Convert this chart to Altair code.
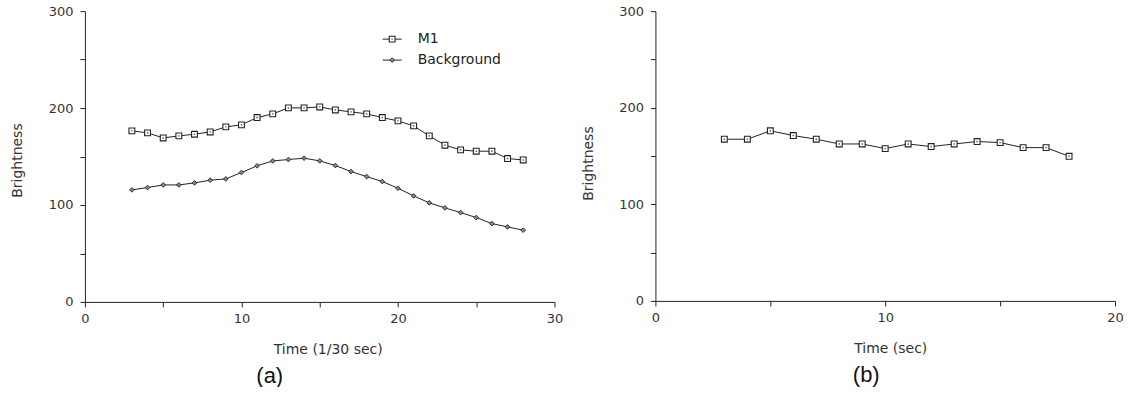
import altair as alt
import pandas as pd

# ---- data ----
time_a = list(range(3, 29))
m1_a = [176.5, 174.4, 169.2, 171.3, 173.0, 175.4, 180.6, 182.7, 190.2, 194.0,
        200.2, 200.2, 201.2, 198.1, 196.1, 194.0, 190.2, 186.8, 181.6, 171.3,
        161.7, 156.9, 155.5, 155.5, 147.9, 146.5]
background_a = [115.6, 118.0, 120.7, 120.7, 122.8, 125.6, 126.9, 133.5, 140.4, 145.5,
                146.9, 148.3, 145.5, 140.7, 134.5, 129.3, 124.2, 117.3, 109.4, 102.2,
                97.0, 92.2, 87.0, 80.8, 77.4, 74.0]
time_b = list(range(3, 19))
m1_b = [167.4, 167.4, 176.1, 171.2, 167.4, 162.5, 162.5, 157.7, 162.5, 159.8,
        162.5, 165.0, 163.9, 158.7, 158.7, 149.7]

x_ticks_a = [0, 5, 10, 15, 20, 25, 30]
x_ticks_b = [0, 5, 10, 15, 20]
y_ticks = [0, 50, 100, 150, 200, 250, 300]

df_m1a = pd.DataFrame({"t": time_a, "v": m1_a})
df_bga = pd.DataFrame({"t": time_a, "v": background_a})
df_m1b = pd.DataFrame({"t": time_b, "v": m1_b})

LINE = "#222222"
FONT = "DejaVu Sans"

W_A, H_A = 470, 291
W_B, H_B = 460, 290


def y_axis(title_y):
    return alt.Axis(values=y_ticks, labelExpr="datum.value % 100 == 0 ? datum.label : ''",
                    title="Brightness", titleAngle=270, titleX=-67, titleY=title_y,
                    titleBaseline="middle", titleAlign="center", tickSize=5,
                    labelPadding=7, grid=False)


def x_axis(vals, title, tx):
    return alt.Axis(values=vals, labelExpr="datum.value % 10 == 0 ? datum.label : ''",
                    title=title, titleX=tx, titleY=48, titleBaseline="middle",
                    titleAlign="center", tickSize=5, labelPadding=6, grid=False,
                    labelFlush=False)


def series(df, xdom, xvals, xtitle, tx, ty, shape):
    base = alt.Chart(df).encode(
        x=alt.X("t:Q", scale=alt.Scale(domain=xdom, nice=False), axis=x_axis(xvals, xtitle, tx)),
        y=alt.Y("v:Q", scale=alt.Scale(domain=[0, 300], nice=False), axis=y_axis(ty)),
    )
    line = base.mark_line(color=LINE, strokeWidth=1)
    if shape == "square":
        pts = base.mark_point(shape="square", filled=True, fill="white", stroke=LINE,
                              strokeWidth=1.1, size=34, opacity=1)
        dot = base.mark_point(shape="square", filled=True, color="#555555", size=2, opacity=1)
        return [line, pts, dot]
    else:
        pts = base.mark_point(shape="diamond", filled=True, fill="#888888", stroke=LINE,
                              strokeWidth=0.9, size=22, opacity=1)
        return [line, pts]


one = alt.Data(values=[{"a": 1}])

# legend (left panel)
leg_rule1 = alt.Chart(one).mark_rule(color=LINE, strokeWidth=1).encode(
    x=alt.value(298), x2=alt.value(317), y=alt.value(28))
leg_pt1 = alt.Chart(one).mark_point(shape="square", filled=True, fill="white", stroke=LINE,
                                    strokeWidth=1.1, size=34, opacity=1).encode(
    x=alt.value(307.5), y=alt.value(28))
leg_dot1 = alt.Chart(one).mark_point(shape="square", filled=True, color="#555555", size=2,
                                     opacity=1).encode(x=alt.value(307.5), y=alt.value(28))
leg_txt1 = alt.Chart(one).mark_text(align="left", baseline="middle", font=FONT, fontSize=14,
                                    color="#222222").encode(
    x=alt.value(333), y=alt.value(28), text=alt.value("M1"))
leg_rule2 = alt.Chart(one).mark_rule(color=LINE, strokeWidth=1).encode(
    x=alt.value(298), x2=alt.value(317), y=alt.value(49))
leg_pt2 = alt.Chart(one).mark_point(shape="diamond", filled=True, fill="#888888", stroke=LINE,
                                    strokeWidth=0.9, size=22, opacity=1).encode(
    x=alt.value(307.5), y=alt.value(49))
leg_txt2 = alt.Chart(one).mark_text(align="left", baseline="middle", font=FONT, fontSize=14,
                                    color="#222222").encode(
    x=alt.value(333), y=alt.value(49), text=alt.value("Background"))

cap_a = alt.Chart(one).mark_text(align="center", baseline="middle", font="Liberation Sans",
                                 fontSize=22, color="#111111").encode(
    x=alt.value(185), y=alt.value(365), text=alt.value("(a)"))
cap_b = alt.Chart(one).mark_text(align="center", baseline="middle", font="Liberation Sans",
                                 fontSize=22, color="#111111").encode(
    x=alt.value(211), y=alt.value(364), text=alt.value("(b)"))

left = alt.layer(
    *series(df_m1a, [0, 30], x_ticks_a, "Time (1/30 sec)", 243, 149, "square"),
    *series(df_bga, [0, 30], x_ticks_a, "Time (1/30 sec)", 243, 149, "diamond"),
    leg_rule1, leg_pt1, leg_dot1, leg_txt1, leg_rule2, leg_pt2, leg_txt2, cap_a,
).properties(width=W_A, height=H_A)

right = alt.layer(
    *series(df_m1b, [0, 20], x_ticks_b, "Time (sec)", 235, 152, "square"),
    cap_b,
).properties(width=W_B, height=H_B)

chart = alt.hconcat(left, right, spacing=18).properties(
    padding={"left": 11, "top": 5, "right": 5, "bottom": 0},
    background="white",
).configure_view(stroke=None).configure_axis(
    domainColor="#222222", tickColor="#222222", labelColor="#333333", titleColor="#333333",
    labelFont=FONT, titleFont=FONT, labelFontSize=13, titleFontSize=14,
    titleFontWeight="normal", domainWidth=1, tickWidth=1,
)

chart.save("out.html", embed_options={"renderer": "svg", "actions": False})
